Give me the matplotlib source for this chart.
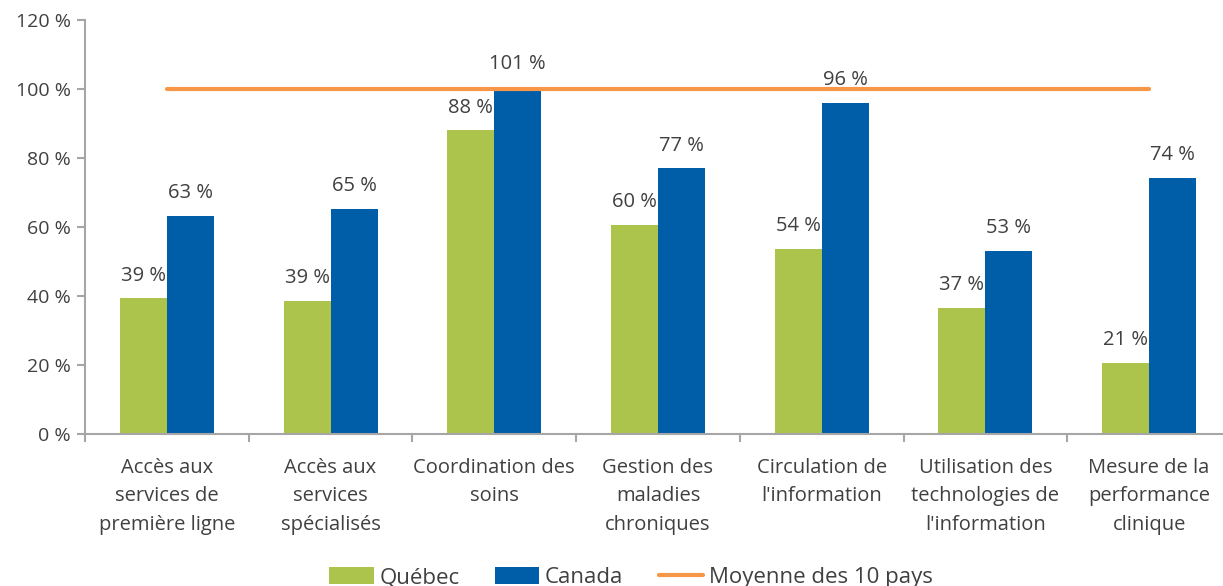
import matplotlib
matplotlib.use('Agg')
import matplotlib.pyplot as plt
import numpy as np

categories = ["Accès aux\nservices de\npremière ligne", "Accès aux\nservices\nspécialisés",
              "Coordination des\nsoins", "Gestion des\nmaladies\nchroniques",
              "Circulation de\nl'information", "Utilisation des\ntechnologies de\nl'information",
              "Mesure de la\nperformance\nclinique"]
quebec = [39.3, 38.6, 88, 60.5, 53.7, 36.6, 20.7]
canada = [63.3, 65.3, 100.5, 77, 96, 53, 74.2]
quebec_labels = ["39 %", "39 %", "88 %", "60 %", "54 %", "37 %", "21 %"]
canada_labels = ["63 %", "65 %", "101 %", "77 %", "96 %", "53 %", "74 %"]
moyenne = [100] * 7

plt.rcParams['font.family'] = ['Open Sans', 'DejaVu Sans']
txt = '#404040'
grey = '#A6A6A6'

fig = plt.figure(figsize=(12.23, 5.86), dpi=100)
ax = fig.add_axes([0.0695, 0.2594, 0.937, 0.7065])

x = np.arange(len(categories))
w = 0.287
b1 = ax.bar(x - w / 2, quebec, w, color='#ADC44C', label='Québec', zorder=2)
b2 = ax.bar(x + w / 2, canada, w, color='#005DA8', label='Canada', zorder=2)
ln, = ax.plot(x, moyenne, color='#F79646', lw=3, solid_capstyle='round', label='Moyenne des 10 pays', zorder=3)

for rect, lab in zip(b1, quebec_labels):
    ax.text(rect.get_x() + rect.get_width() / 2, rect.get_height() + 3.7, lab,
            ha='center', va='bottom', fontsize=14.5, color=txt)
for rect, lab in zip(b2, canada_labels):
    ax.text(rect.get_x() + rect.get_width() / 2, rect.get_height() + 3.7, lab,
            ha='center', va='bottom', fontsize=14.5, color=txt)

ax.set_xlim(-0.5, len(categories) - 0.5)
ax.set_ylim(0, 120)
ax.set_yticks(range(0, 121, 20))
ax.set_yticklabels([f"{v} %" for v in range(0, 121, 20)], fontsize=14, color=txt)
ax.set_xticks(np.arange(-0.5, len(categories), 1))
ax.set_xticklabels([])
ax.set_xticks(x, minor=True)
ax.set_xticklabels(categories, minor=True, fontsize=14.5, color=txt, va='top', linespacing=1.58)
ax.tick_params(axis='x', which='minor', length=0, pad=17)
ax.tick_params(axis='x', which='major', length=6, color=grey, width=1.5)
ax.tick_params(axis='y', length=6, color=grey, width=1.5, pad=4)

for s in ['top', 'right']:
    ax.spines[s].set_visible(False)
for s in ['left', 'bottom']:
    ax.spines[s].set_color(grey)
    ax.spines[s].set_linewidth(1.5)

leg = fig.legend([b1, b2, ln], ['Québec', 'Canada', 'Moyenne des 10 pays'],
                 loc='lower center', bbox_to_anchor=(0.516, -0.038), ncol=3, frameon=False,
                 fontsize=16, handlelength=2.0, handleheight=0.8, columnspacing=1.6,
                 handletextpad=0.25)
for t in leg.get_texts():
    t.set_color(txt)

fig.savefig('out.png', dpi=100)
plt.close(fig)
